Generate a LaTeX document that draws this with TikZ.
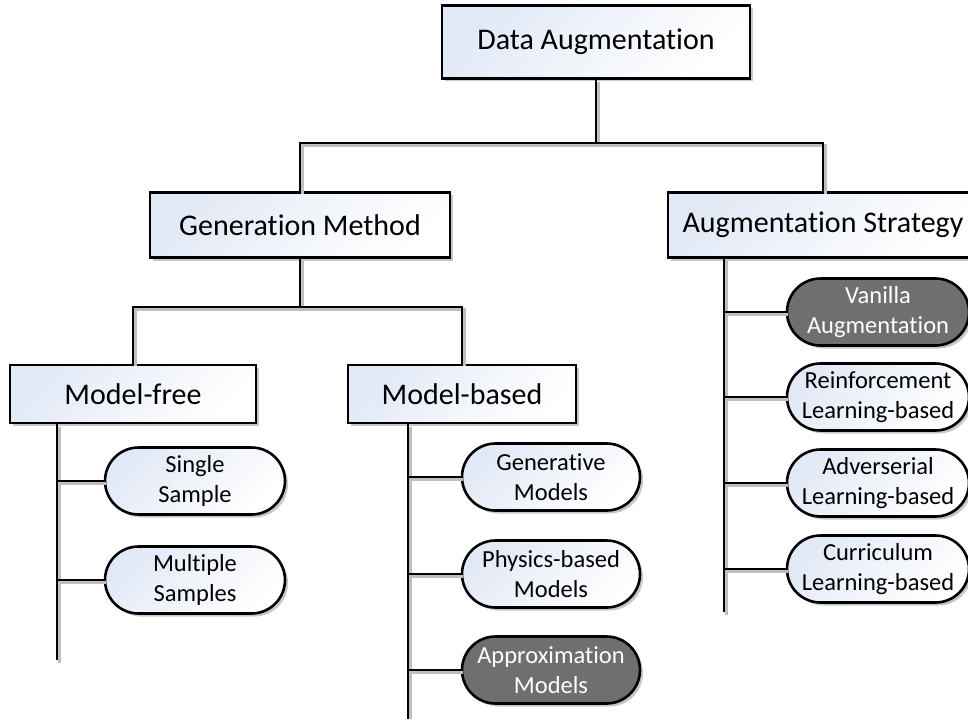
\documentclass[tikz,border=0pt]{standalone}
\usepackage{fontspec}
\setmainfont{Carlito}[Ligatures={NoCommon}]
\usetikzlibrary{shapes.misc,shadows}
\definecolor{boxblue}{HTML}{E2E9F6}
\definecolor{darkfill}{HTML}{6F6F6F}
\tikzset{
  base/.style={draw=black, line width=2.6pt, align=center, inner sep=0pt,
    drop shadow={shadow xshift=3pt, shadow yshift=-3pt, fill=black, opacity=0.22}},
  lightfill/.style={shading=axis, top color=boxblue, bottom color=white, shading angle=45},
  catbox/.style={base, lightfill, rectangle, font=\fontsize{30}{33}\selectfont},
  leaf/.style={base, lightfill, rounded rectangle, minimum width=180pt, minimum height=67pt, font=\fontsize{24.5}{30}\selectfont},
  darkleaf/.style={base, rounded rectangle, fill=darkfill, text=white, minimum width=180pt, minimum height=67pt, font=\fontsize{24.5}{30}\selectfont},
  conn/.style={line width=2.6pt, preaction={draw=black!25, line width=2.6pt, transform canvas={xshift=2.5pt, yshift=-2.5pt}}}
}
\begin{document}
\begin{tikzpicture}[x=1pt, y=-1pt]
\useasboundingbox (0,0) rectangle (968,719);
% category boxes
\node[catbox, minimum width=308pt, minimum height=73pt] (da) at (596,42) {Data Augmentation};
\node[catbox, minimum width=300pt, minimum height=65pt] (gm) at (300,225) {Generation Method};
\node[catbox, minimum width=310pt, minimum height=65pt] (as) at (823,225) {Augmentation Strategy};
\node[catbox, minimum width=246pt, minimum height=58pt] (mf) at (133,394) {Model-free};
\node[catbox, minimum width=228pt, minimum height=58pt] (mb) at (462,394) {Model-based};
% leaves
\node[leaf] (ss) at (195,481) {Single\\Sample};
\node[leaf] (ms) at (195,580) {Multiple\\Samples};
\node[leaf, minimum width=178pt] (gen) at (551,477) {Generative\\Models};
\node[leaf, minimum width=178pt] (phy) at (551,574) {Physics-based\\Models};
\node[darkleaf, minimum width=178pt] (apx) at (551,670) {Approximation\\Models};
\node[darkleaf, minimum width=182pt] (van) at (878,312) {Vanilla\\Augmentation};
\node[leaf, minimum width=182pt] (rl) at (878,397) {Reinforcement\\Learning-based};
\node[leaf, minimum width=182pt] (adv) at (878,483) {Adverserial\\Learning-based};
\node[leaf, minimum width=182pt] (cur) at (878,569) {Curriculum\\Learning-based};
% junctions
\coordinate (j1) at (596,143);
\coordinate (j2) at (300,307);
\coordinate (mfend) at (57,660);
\coordinate (mbend) at (408,719);
\coordinate (asend) at (724,612);
% tree connectors
\draw[conn] (da.south) -- (j1);
\draw[conn] (gm.north) -- (gm.north |- j1) -- (as.north |- j1) -- (as.north);
\draw[conn] (gm.south) -- (j2);
\draw[conn] (mf.north) -- (mf.north |- j2) -- (mb.north |- j2) -- (mb.north);
% spines
\draw[conn] (mf.south -| mfend) -- (mfend);
\draw[conn] (mb.south -| mbend) -- (mbend);
\draw[conn] (as.south -| asend) -- (asend);
% branches
\draw[conn] (ss.west -| mfend) -- (ss.west);
\draw[conn] (ms.west -| mfend) -- (ms.west);
\draw[conn] (gen.west -| mbend) -- (gen.west);
\draw[conn] (phy.west -| mbend) -- (phy.west);
\draw[conn] (apx.west -| mbend) -- (apx.west);
\draw[conn] (van.west -| asend) -- (van.west);
\draw[conn] (rl.west -| asend) -- (rl.west);
\draw[conn] (adv.west -| asend) -- (adv.west);
\draw[conn] (cur.west -| asend) -- (cur.west);
\end{tikzpicture}
\end{document}
